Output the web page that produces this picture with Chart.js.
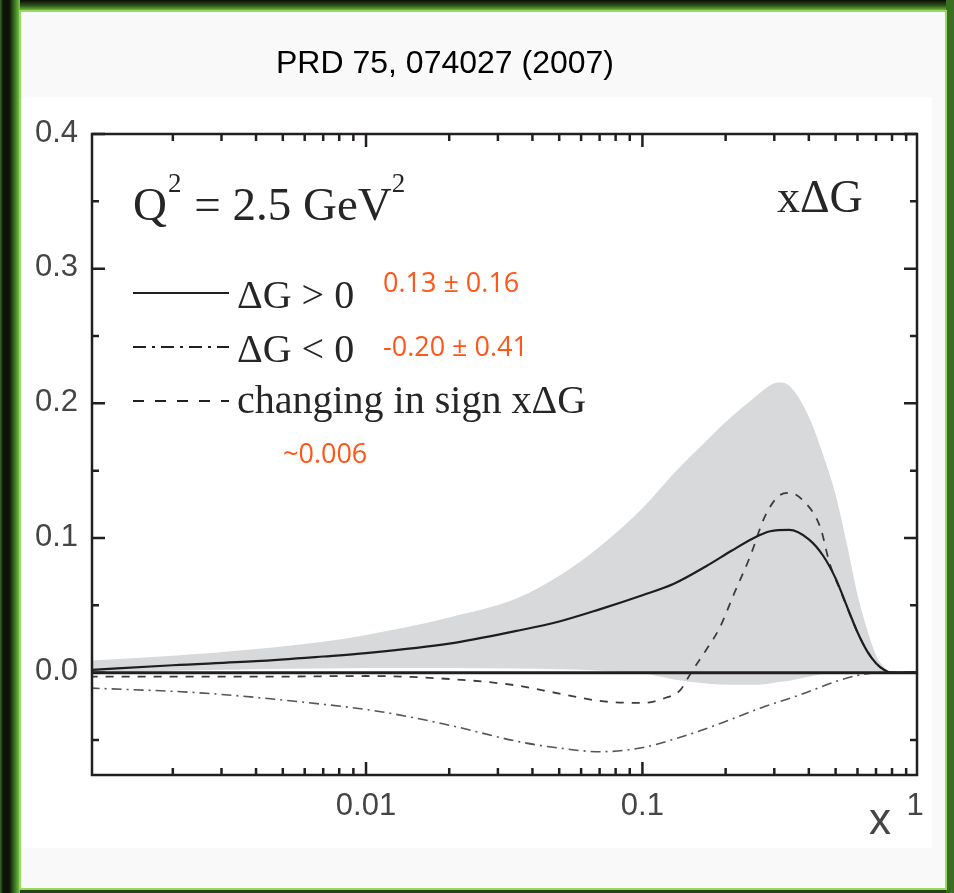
<!DOCTYPE html>
<html>
<head>
<meta charset="utf-8">
<script src="https://cdn.jsdelivr.net/npm/chart.js@4.4.0/dist/chart.umd.min.js"></script>
<style>
  html, body { margin: 0; padding: 0; background: #25421a; }
  #wrap { width: 954px; height: 893px; }
</style>
</head>
<body>
<div id="wrap"><canvas id="xgChart" width="954" height="893"></canvas></div>
<script>
// x grid shared by the uncertainty band
var bandX     = [0.001, 0.002, 0.004, 0.007, 0.01, 0.02, 0.035, 0.05, 0.07, 0.1, 0.13, 0.17, 0.21, 0.25, 0.29, 0.31, 0.34, 0.4, 0.45, 0.5, 0.55, 0.6, 0.65, 0.7, 0.75, 0.8, 1.0];
var bandUpper = [0.009, 0.0125, 0.0175, 0.023, 0.028, 0.041, 0.055, 0.072, 0.0935, 0.122, 0.148, 0.172, 0.19, 0.203, 0.2135, 0.2155, 0.213, 0.19, 0.162, 0.132, 0.095, 0.058, 0.032, 0.013, 0.004, 0.0, 0.0];
var bandLower = [0.0005, 0.0015, 0.0025, 0.003, 0.0035, 0.0035, 0.003, 0.0025, 0.0015, -0.0005, -0.005, -0.008, -0.009, -0.009, -0.008, -0.007, -0.006, -0.003, -0.001, 0.0, 0.0, 0.0, 0.0, 0.0, 0.0, 0.0, 0.0];

// dG > 0 (solid)
var posX = [0.001, 0.002, 0.004, 0.007, 0.01, 0.02, 0.035, 0.05, 0.07, 0.1, 0.13, 0.17, 0.21, 0.25, 0.29, 0.34, 0.4, 0.45, 0.5, 0.55, 0.6, 0.65, 0.7, 0.75, 0.8, 1.0];
var posY = [0.002, 0.0055, 0.0085, 0.012, 0.0145, 0.0215, 0.031, 0.038, 0.047, 0.0575, 0.066, 0.079, 0.0905, 0.0995, 0.105, 0.106, 0.099, 0.087, 0.070, 0.049, 0.030, 0.016, 0.007, 0.002, 0.0, 0.0];

// dG < 0 (dash-dot)
var negX = [0.001, 0.0025, 0.0058, 0.0113, 0.02, 0.036, 0.05, 0.07, 0.098, 0.137, 0.19, 0.27, 0.37, 0.52, 0.61, 0.72, 1.0];
var negY = [-0.0114, -0.015, -0.0217, -0.029, -0.039, -0.0514, -0.056, -0.0587, -0.056, -0.048, -0.038, -0.026, -0.0166, -0.0054, -0.0017, 0.0, 0.0];

// changing in sign (dashed)
var signX = [0.001, 0.004, 0.01, 0.02, 0.035, 0.05, 0.07, 0.1, 0.12, 0.137, 0.15, 0.17, 0.19, 0.215, 0.245, 0.277, 0.315, 0.34, 0.385, 0.44, 0.476, 0.52, 0.6, 0.65, 0.7, 0.75, 0.8, 1.0];
var signY = [-0.003, -0.003, -0.0025, -0.0047, -0.0095, -0.0155, -0.021, -0.0225, -0.019, -0.013, 0.0, 0.0168, 0.033, 0.059, 0.086, 0.1157, 0.132, 0.1335, 0.127, 0.108, 0.081, 0.061, 0.030, 0.016, 0.007, 0.002, 0.0, 0.0];

var yTickValues = [0.0, 0.1, 0.2, 0.3, 0.4];
var yTickLabels = ['0.0', '0.1', '0.2', '0.3', '0.4'];
var xTickValues = [0.01, 0.1, 1];
var xTickLabels = ['0.01', '0.1', '1'];

function pts(xs, ys) {
    return xs.map(function (x, i) { return { x: x, y: ys[i] }; });
}

var SERIF = '"Liberation Serif", "DejaVu Serif", serif';
var SANS = '"Liberation Sans", Arial, sans-serif';
var ORANGE = '#ff5517';

// page background, frame, ticks and all the annotation text
var decor = {
    id: 'decor',
    beforeDraw: function (chart) {
        var c = chart.ctx;
        c.save();
        c.fillStyle = '#25421a';
        c.fillRect(0, 0, 954, 893);
        var gl = c.createLinearGradient(0, 0, 20, 0);
        gl.addColorStop(0, '#3a6b26');
        gl.addColorStop(0.15, '#0d1508');
        gl.addColorStop(0.45, '#0b1206');
        gl.addColorStop(0.75, '#3f7a22');
        gl.addColorStop(1, '#7cc84a');
        c.fillStyle = gl;
        c.fillRect(0, 0, 20, 893);
        var gt = c.createLinearGradient(0, 0, 0, 11);
        gt.addColorStop(0, '#0a0f06');
        gt.addColorStop(0.5, '#2c5218');
        gt.addColorStop(1, '#7cc84a');
        c.fillStyle = gt;
        c.fillRect(20, 0, 934, 11);
        c.fillStyle = '#3b6e22';
        c.fillRect(946, 0, 8, 893);
        c.fillStyle = '#f9f9f9';
        c.fillRect(21, 12, 924, 876);
        c.strokeStyle = '#94dc5c';
        c.lineWidth = 2;
        c.strokeRect(20, 11, 926, 878);
        c.fillStyle = '#ffffff';
        c.fillRect(21, 97, 911, 751);

        c.fillStyle = '#000';
        c.font = '32px ' + SANS;
        c.textAlign = 'center';
        c.textBaseline = 'middle';
        c.fillText('PRD 75, 074027 (2007)', 445, 64);
        c.restore();
    },
    afterDatasetsDraw: function (chart) {
        var c = chart.ctx, a = chart.chartArea;
        var xs = chart.scales.x, ys = chart.scales.y;
        c.save();
        c.strokeStyle = '#231f20';

        // zero line
        var y0 = ys.getPixelForValue(0);
        c.lineWidth = 3;
        c.beginPath(); c.moveTo(a.left, y0); c.lineTo(a.right, y0); c.stroke();

        // frame
        c.lineWidth = 2.5;
        c.strokeRect(a.left, a.top, a.right - a.left, a.bottom - a.top);

        // y ticks, inward on both sides
        for (var k = -1; k <= 8; k++) {
            var v = k * 0.05;
            if (v < ys.min || v > ys.max) continue;
            var py = ys.getPixelForValue(v);
            var len = (k % 2 === 0) ? 13 : 7;
            c.beginPath();
            c.moveTo(a.left, py); c.lineTo(a.left + len, py);
            c.moveTo(a.right, py); c.lineTo(a.right - len, py);
            c.stroke();
        }
        // x ticks, inward top and bottom
        for (var d = -3; d <= 0; d++) {
            for (var m = 1; m <= 9; m++) {
                var xv = m * Math.pow(10, d);
                if (xv <= xs.min || xv >= xs.max) continue;
                var px = xs.getPixelForValue(xv);
                var l2 = (m === 1) ? 13 : 7;
                c.beginPath();
                c.moveTo(px, a.bottom); c.lineTo(px, a.bottom - l2);
                c.moveTo(px, a.top); c.lineTo(px, a.top + l2);
                c.stroke();
            }
        }

        // tick labels
        c.fillStyle = '#454545';
        c.font = '31px ' + SANS;
        c.textAlign = 'right';
        c.textBaseline = 'middle';
        yTickValues.forEach(function (v, i) {
            c.fillText(yTickLabels[i], 78, ys.getPixelForValue(v) - 1);
        });
        c.textAlign = 'center';
        xTickValues.forEach(function (v, i) {
            var px = Math.min(xs.getPixelForValue(v), 915);
            c.fillText(xTickLabels[i], px, 806);
        });
        c.font = '44px ' + SANS;
        c.fillText('x', 880, 822);

        // Q^2 label
        c.fillStyle = '#262626';
        c.textAlign = 'left';
        c.textBaseline = 'alphabetic';
        var qx = 133;
        c.font = '47px ' + SERIF;
        c.fillText('Q', qx, 220); qx += c.measureText('Q').width;
        c.font = '27px ' + SERIF;
        c.fillText('2', qx + 1, 192); qx += c.measureText('2').width + 2;
        c.font = '47px ' + SERIF;
        c.fillText(' = 2.5 GeV', qx, 220); qx += c.measureText(' = 2.5 GeV').width;
        c.font = '27px ' + SERIF;
        c.fillText('2', qx, 192);

        c.font = '46px ' + SERIF;
        c.fillText('x\u0394G', 777, 212);

        // legend
        var leg = [
            { y: 293, dash: [], text: '\u0394G > 0', base: 308 },
            { y: 347, dash: [13, 6, 3, 6], text: '\u0394G < 0', base: 362 },
            { y: 401, dash: [11, 11], text: 'changing in sign x\u0394G', base: 413 }
        ];
        c.font = '40px ' + SERIF;
        leg.forEach(function (it) {
            c.setLineDash(it.dash);
            c.lineWidth = 2.2;
            c.strokeStyle = '#231f20';
            c.beginPath(); c.moveTo(133, it.y); c.lineTo(229, it.y); c.stroke();
            c.setLineDash([]);
            c.fillText(it.text, 237, it.base);
        });

        // orange notes
        c.fillStyle = ORANGE;
        c.font = '27px "Open Sans", sans-serif';
        c.fillText('0.13 \u00b1 0.16', 383, 292);
        c.fillText('-0.20 \u00b1 0.41', 383, 356);
        c.fillText('~0.006', 283, 463);
        c.restore();
    }
};

var ctx = document.getElementById('xgChart').getContext('2d');

// band datasets get a higher order so they are drawn underneath the curves
var xgChart = new Chart(ctx, {
    type: 'line',
    data: {
        datasets: [{
            label: 'band upper',
            data: pts(bandX, bandUpper),
            borderWidth: 0,
            backgroundColor: '#d8d9db',
            fill: '+1',
            order: 10
        }, {
            label: 'band lower',
            data: pts(bandX, bandLower),
            borderWidth: 0,
            fill: false,
            order: 10
        }, {
            label: 'dG > 0',
            data: pts(posX, posY),
            borderColor: '#1e1e1e',
            borderWidth: 2.2,
            fill: false,
            order: 1
        }, {
            label: 'dG < 0',
            data: pts(negX, negY),
            borderColor: '#555555',
            borderWidth: 1.6,
            borderDash: [10, 5, 2, 5],
            fill: false,
            order: 1
        }, {
            label: 'changing in sign',
            data: pts(signX, signY),
            borderColor: '#3c3c3c',
            borderWidth: 1.8,
            borderDash: [8, 8],
            fill: false,
            order: 1
        }]
    },
    options: {
        responsive: false,
        animation: false,
        layout: { padding: { left: 92, top: 134, right: 37, bottom: 118 } },
        elements: {
            point: { radius: 0 },
            line: { cubicInterpolationMode: 'monotone' }
        },
        scales: {
            x: { type: 'logarithmic', min: 0.00102, max: 0.985, display: false },
            y: { type: 'linear', min: -0.076, max: 0.4, display: false }
        },
        plugins: {
            legend: { display: false },
            tooltip: { enabled: false }
        }
    },
    plugins: [decor]
});
</script>
</body>
</html>
